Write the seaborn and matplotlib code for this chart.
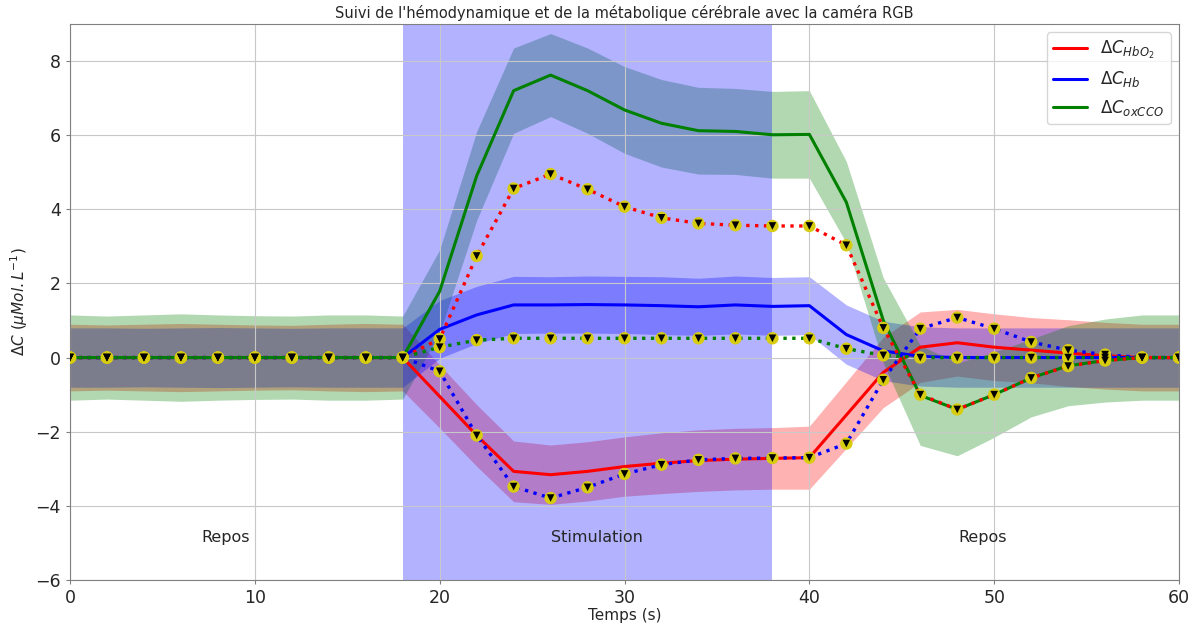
import numpy as np
import pandas as pd
import matplotlib
matplotlib.use("Agg")
import matplotlib.pyplot as plt
import seaborn as sns

# time axis (s), one sample every 2 s
temps = list(range(0, 62, 2))

# estimated curves (solid) and their std bands
hbo2 = [0, 0, 0, 0, 0, 0, 0, 0, 0, 0,
        -1.05, -2.1, -3.07, -3.16, -3.07, -2.94, -2.85, -2.78, -2.74, -2.72,
        -2.7, -1.55, -0.4, 0.28, 0.4, 0.28, 0.2, 0.12, 0.05, 0.0, 0.0]
hb = [0, 0, 0, 0, 0, 0, 0, 0, 0, 0,
      0.76, 1.15, 1.42, 1.42, 1.43, 1.42, 1.4, 1.37, 1.42, 1.38,
      1.4, 0.62, 0.18, 0.03, 0.0, 0.0, 0.0, 0.0, 0.0, 0.0, 0.0]
oxcco = [0, 0, 0, 0, 0, 0, 0, 0, 0, 0,
         1.79, 4.9, 7.2, 7.62, 7.2, 6.68, 6.32, 6.12, 6.1, 6.01,
         6.02, 4.19, 1.0, -1.02, -1.4, -1.0, -0.55, -0.22, -0.08, 0.0, 0.0]

std_hbo2 = [0.9, 0.88, 0.9, 0.92, 0.9, 0.88, 0.87, 0.9, 0.92, 0.9,
            0.85, 0.83, 0.82, 0.8, 0.8, 0.8, 0.82, 0.83, 0.83, 0.83,
            0.85, 0.9, 0.95, 0.95, 0.9, 0.9, 0.88, 0.9, 0.9, 0.9, 0.9]
std_hb = [0.8, 0.8, 0.79, 0.8, 0.81, 0.8, 0.79, 0.8, 0.8, 0.8,
          0.78, 0.77, 0.77, 0.76, 0.77, 0.77, 0.78, 0.77, 0.78, 0.78,
          0.78, 0.8, 0.8, 0.8, 0.8, 0.8, 0.8, 0.8, 0.8, 0.8, 0.8]
std_oxcco = [1.15, 1.12, 1.15, 1.18, 1.15, 1.13, 1.12, 1.15, 1.15, 1.12,
             1.12, 1.2, 1.15, 1.12, 1.15, 1.17, 1.18, 1.17, 1.16, 1.17,
             1.18, 1.1, 1.15, 1.35, 1.25, 1.15, 1.05, 1.08, 1.12, 1.15, 1.15]

# reference curves (dotted + markers)
ref_hbo2 = [0, 0, 0, 0, 0, 0, 0, 0, 0, 0,
            0.5, 2.74, 4.56, 4.95, 4.54, 4.07, 3.77, 3.62, 3.57, 3.55,
            3.55, 3.03, 0.8, -1.0, -1.4, -1.0, -0.55, -0.23, -0.08, 0.0, 0.0]
ref_hb = [0, 0, 0, 0, 0, 0, 0, 0, 0, 0,
          -0.37, -2.1, -3.48, -3.79, -3.5, -3.14, -2.89, -2.76, -2.72, -2.71,
          -2.7, -2.32, -0.6, 0.78, 1.08, 0.78, 0.42, 0.2, 0.08, 0.0, 0.0]
ref_oxcco = [0, 0, 0, 0, 0, 0, 0, 0, 0, 0,
             0.28, 0.47, 0.52, 0.52, 0.52, 0.52, 0.52, 0.52, 0.52, 0.52,
             0.52, 0.24, 0.06, 0.0, 0.0, 0.0, 0.0, 0.0, 0.0, 0.0, 0.0]

stim_debut, stim_fin = 18, 38
phases = ["Repos", "Stimulation", "Repos"]
phases_x = [8.4, 28.5, 49.4]

sns.set_style("ticks", {"axes.grid": True, "grid.color": "#c8c8c8",
                        "axes.edgecolor": "#808080"})
plt.rcParams["font.family"] = ["DejaVu Sans"]

df = pd.DataFrame({"t": temps, "hbo2": hbo2, "hb": hb, "oxcco": oxcco,
                   "s_hbo2": std_hbo2, "s_hb": std_hb, "s_oxcco": std_oxcco,
                   "r_hbo2": ref_hbo2, "r_hb": ref_hb, "r_oxcco": ref_oxcco})

fig = plt.figure(figsize=(11.97, 6.3), dpi=100)
ax = fig.add_axes([0.0585, 0.0794, 0.9265, 0.8826])
ax.set_axisbelow("line")  # grid above the shaded areas, below the curves

series = [("hbo2", "red", r"$\Delta C_{HbO_2}$"),
          ("hb", "blue", r"$\Delta C_{Hb}$"),
          ("oxcco", "green", r"$\Delta C_{oxCCO}$")]

for key, col, lab in series:
    ax.fill_between(df["t"], df[key] - df["s_" + key], df[key] + df["s_" + key],
                    color=col, alpha=0.3, lw=0)

# stimulation period drawn over the bands
ax.axvspan(stim_debut, stim_fin, color="blue", alpha=0.3, lw=0)

handles = []
for key, col, lab in series:
    sns.lineplot(data=df, x="t", y=key, color=col, lw=2.2, ax=ax)
    handles.append(ax.lines[-1])
for key, col, lab in series:
    sns.lineplot(data=df, x="t", y="r_" + key, color=col, lw=2.4,
                 linestyle=":", ax=ax)
for key, col, lab in series:
    sns.scatterplot(data=df, x="t", y="r_" + key, marker="o", s=80,
                    color="#d8cc10", edgecolor="none", ax=ax, zorder=5)
    sns.scatterplot(data=df, x="t", y="r_" + key, marker="v", s=30,
                    color="black", edgecolor="none", ax=ax, zorder=6)

for txt, xp in zip(phases, phases_x):
    ax.text(xp, -4.85, txt, ha="center", va="center", fontsize=11.5)

ax.set_xlim(0, 60)
ax.set_ylim(-6, 9)
ax.set_yticks(range(-6, 9, 2))
ax.set_xticks(range(0, 61, 10))
ax.tick_params(labelsize=12.5, length=3, color="#808080")
ax.set_xlabel("Temps (s)", fontsize=11, labelpad=1)
ax.set_ylabel(r"$\Delta C\ (\mu Mol.L^{-1})$", fontsize=11)
ax.set_title("Suivi de l'hémodynamique et de la métabolique cérébrale avec la caméra RGB",
             fontsize=10.5, pad=4)

for lh, (key, col, lab) in zip(handles, series):
    lh.set_label(lab)
ax.legend(handles=handles, loc="upper right", fontsize=12, frameon=True)

fig.savefig("out.png", dpi=100)
